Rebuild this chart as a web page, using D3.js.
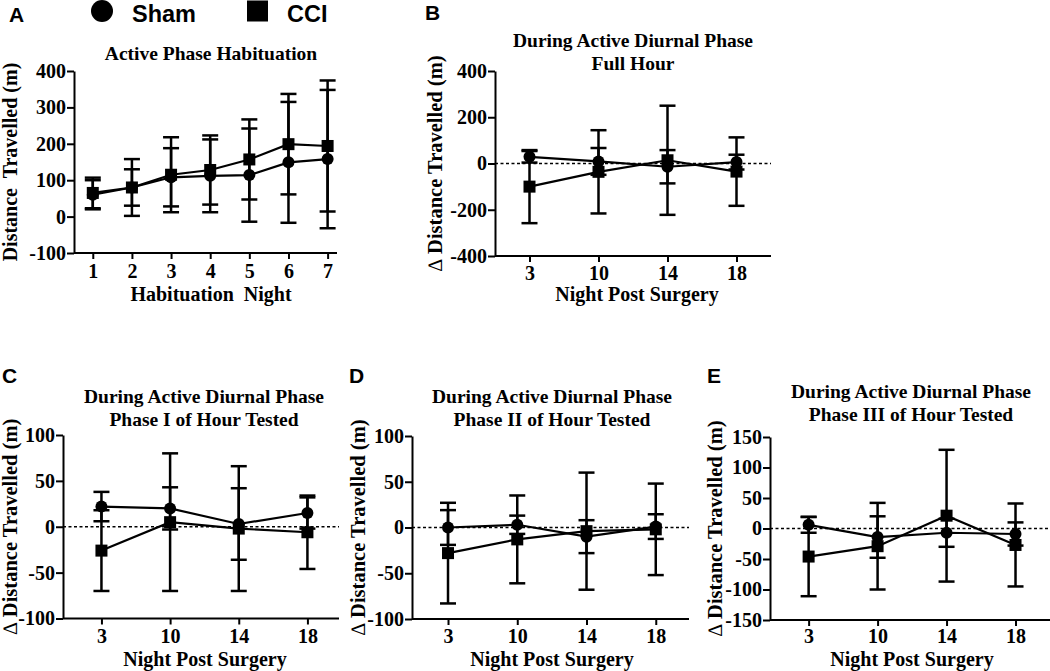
<!DOCTYPE html>
<html>
<head>
<meta charset="utf-8">
<script src="https://cdn.jsdelivr.net/npm/d3@7"></script>
<style>
  html, body { margin: 0; padding: 0; background: #fff; }
  svg { display: block; }
</style>
</head>
<body>
<svg id="chart" width="1050" height="671"></svg>
<script>
// ---------------- DATA ----------------
const habituationNights = [1, 2, 3, 4, 5, 6, 7];
const shamA    = [60, 80, 108, 112, 114, 149, 158];
const shamAErr = [40, 50, 80, 100, 128, 166, 190];
const cciA     = [65, 80, 115, 128, 157, 199, 194];
const cciAErr  = [42, 78, 103, 95, 110, 138, 180];
const ticksA   = [-100, 0, 100, 200, 300, 400];

const postNights = ["3", "10", "14", "18"];

const shamB    = [29, 9, -14, 6];
const shamBErr = [25, 58, 72, 32];
const cciB     = [-100, -36, 14, -35];
const cciBErr  = [158, 180, 236, 148];
const ticksB   = [-400, -200, 0, 200, 400];

const shamC    = [22, 20, 3, 15];
const shamCErr = [16, 23, 39, 17];
const cciC     = [-26, 5, -2, -6];
const cciCErr  = [44, 75, 68, 40];
const ticksC   = [-100, -50, 0, 50, 100];

const shamD    = [0, 3, -10, 1];
const shamDErr = [19, 10, 18, 13.5];
const cciD     = [-28, -13, -4, -2];
const cciDErr  = [55, 48, 64, 50];
const ticksD   = [-100, -50, 0, 50, 100];

const shamE    = [6, -14, -7, -9];
const shamEErr = [13, 34, 23, 19];
const cciE     = [-46, -29, 21, -27];
const cciEErr  = [65, 71, 108, 68];
const ticksE   = [-150, -100, -50, 0, 50, 100, 150];

// ---------------- DRAW ----------------
const svg = d3.select("#chart");
const SERIF = '"Liberation Serif", "Times New Roman", serif';
const SANS = '"Liberation Sans", Arial, sans-serif';

function panel(cfg) {
  const g = svg.append("g");
  const n = cfg.cats.length;
  const x = d3.scaleLinear().domain(cfg.xDomain).range([cfg.left, cfg.right]);
  const y = d3.scaleLinear().domain([cfg.ticks[0], cfg.ticks[cfg.ticks.length - 1]]).range([cfg.bottom, cfg.top]);

  const styleAxis = sel => {
    sel.attr("font-family", SERIF).attr("font-size", 20).attr("font-weight", "bold");
    sel.selectAll(".domain, .tick line").attr("stroke", "#000").attr("stroke-width", 2);
    sel.selectAll(".tick text").attr("fill", "#000")
      .attr("font-family", SERIF).attr("font-weight", "bold").attr("font-size", 20);
  };

  // axes
  const xAxis = d3.axisBottom(x)
    .tickValues(d3.range(n).map(i => cfg.xVal(i)))
    .tickFormat((d, i) => cfg.cats[i])
    .tickSize(6).tickSizeOuter(0).tickPadding(cfg.xPad);
  const gx = g.append("g").attr("transform", `translate(0,${cfg.bottom})`).call(xAxis).call(styleAxis);
  gx.select(".domain").attr("d", `M${cfg.left},0H${cfg.right}`);

  const yAxis = d3.axisLeft(y).tickValues(cfg.ticks).tickSize(7).tickSizeOuter(0).tickPadding(1)
    .tickFormat(d => String(d));
  g.append("g").attr("transform", `translate(${cfg.left},0)`).call(yAxis).call(styleAxis);

  // zero line
  if (cfg.zeroLine) {
    g.append("line")
      .attr("x1", cfg.left).attr("x2", cfg.right)
      .attr("y1", y(0)).attr("y2", y(0))
      .attr("stroke", "#000").attr("stroke-width", 1.6)
      .attr("stroke-dasharray", "3,2.5");
  }

  const series = [
    { vals: cfg.sham, err: cfg.shamErr, shape: "circle" },
    { vals: cfg.cci, err: cfg.cciErr, shape: "square" }
  ];
  const cap = 8;
  // error bars
  series.forEach(s => {
    s.vals.forEach((v, i) => {
      const cx = x(cfg.xVal(i));
      const y1 = y(v + s.err[i]), y0 = y(v - s.err[i]);
      g.append("line").attr("x1", cx).attr("x2", cx).attr("y1", y1).attr("y2", y0)
        .attr("stroke", "#000").attr("stroke-width", 2.5);
      [y1, y0].forEach(yy => g.append("line")
        .attr("x1", cx - cap).attr("x2", cx + cap).attr("y1", yy).attr("y2", yy)
        .attr("stroke", "#000").attr("stroke-width", 2.5));
    });
  });
  // lines
  const line = d3.line().x((d, i) => x(cfg.xVal(i))).y(d => y(d));
  series.forEach(s => {
    g.append("path").attr("d", line(s.vals)).attr("fill", "none")
      .attr("stroke", "#000").attr("stroke-width", 2.2);
  });
  // markers
  series.forEach(s => {
    s.vals.forEach((v, i) => {
      const cx = x(cfg.xVal(i)), cy = y(v);
      if (s.shape === "circle") {
        g.append("circle").attr("cx", cx).attr("cy", cy).attr("r", 6).attr("fill", "#000");
      } else {
        g.append("rect").attr("x", cx - 6).attr("y", cy - 6).attr("width", 12).attr("height", 12).attr("fill", "#000");
      }
    });
  });

  // titles
  cfg.title.forEach((t, i) => {
    g.append("text").attr("x", cfg.titleX).attr("y", cfg.titleY + i * 23)
      .attr("text-anchor", "middle").attr("font-family", SERIF).attr("font-weight", "bold")
      .attr("font-size", 19.5).text(t);
  });
  // x title
  g.append("text").attr("x", cfg.xTitleX).attr("y", cfg.xTitleY)
    .attr("text-anchor", "middle").attr("font-family", SERIF).attr("font-weight", "bold")
    .attr("font-size", 20).style("white-space", "pre").text(cfg.xTitle);
  // y title
  const yt = g.append("text").attr("transform", `translate(${cfg.yTitleX},${(cfg.top + cfg.bottom) / 2}) rotate(-90)`)
    .attr("text-anchor", "middle").attr("font-family", SERIF).attr("font-weight", "bold")
    .attr("font-size", cfg.yTitleSize).style("white-space", "pre");
  if (cfg.delta) {
    yt.append("tspan").attr("font-weight", "normal").text("\u2206 ");
  }
  yt.append("tspan").text(cfg.yTitle);
  // panel letter
  g.append("text").attr("x", cfg.letterX).attr("y", cfg.letterY)
    .attr("font-family", SANS).attr("font-weight", "bold").attr("font-size", 21).text(cfg.letter);
}

const idx = i => i;

panel({
  letter: "A", letterX: 9, letterY: 22,
  cats: habituationNights.map(String), xVal: i => habituationNights[i], xDomain: [0.52, 7.24],
  left: 74, right: 337, top: 71, bottom: 253, ticks: ticksA, xPad: 5,
  sham: shamA, shamErr: shamAErr, cci: cciA, cciErr: cciAErr, zeroLine: false,
  title: ["Active Phase Habituation"], titleX: 211, titleY: 60,
  xTitle: "Habituation  Night", xTitleX: 211, xTitleY: 301,
  yTitle: "Distance  Travelled (m)", yTitleX: 17, yTitleSize: 20, delta: false
});
panel({
  letter: "B", letterX: 425, letterY: 20,
  cats: postNights, xVal: idx, xDomain: [-0.5, 3.5],
  left: 495, right: 771, top: 71, bottom: 256, ticks: ticksB, xPad: 4,
  sham: shamB, shamErr: shamBErr, cci: cciB, cciErr: cciBErr, zeroLine: true,
  title: ["During Active Diurnal Phase", "Full Hour"], titleX: 633, titleY: 47,
  xTitle: "Night Post Surgery", xTitleX: 637, xTitleY: 301,
  yTitle: "Distance Travelled (m)", yTitleX: 442, yTitleSize: 20.5, delta: true
});
panel({
  letter: "C", letterX: 2, letterY: 383,
  cats: postNights, xVal: idx, xDomain: [-0.56, 3.46],
  left: 63, right: 339, top: 435, bottom: 618.5, ticks: ticksC, xPad: 4,
  sham: shamC, shamErr: shamCErr, cci: cciC, cciErr: cciCErr, zeroLine: true,
  title: ["During Active Diurnal Phase", "Phase I of Hour Tested"], titleX: 204, titleY: 403,
  xTitle: "Night Post Surgery", xTitleX: 205, xTitleY: 666,
  yTitle: "Distance Travelled (m)", yTitleX: 17, yTitleSize: 20.5, delta: true
});
panel({
  letter: "D", letterX: 349, letterY: 383,
  cats: postNights, xVal: idx, xDomain: [-0.52, 3.48],
  left: 412, right: 689, top: 436, bottom: 619, ticks: ticksD, xPad: 3.5,
  sham: shamD, shamErr: shamDErr, cci: cciD, cciErr: cciDErr, zeroLine: true,
  title: ["During Active Diurnal Phase", "Phase II of Hour Tested"], titleX: 552, titleY: 403,
  xTitle: "Night Post Surgery", xTitleX: 552, xTitleY: 666,
  yTitle: "Distance Travelled (m)", yTitleX: 365, yTitleSize: 20.5, delta: true
});
panel({
  letter: "E", letterX: 707, letterY: 383,
  cats: postNights, xVal: idx, xDomain: [-0.56, 3.5],
  left: 770, right: 1050, top: 437, bottom: 620, ticks: ticksE, xPad: 3,
  sham: shamE, shamErr: shamEErr, cci: cciE, cciErr: cciEErr, zeroLine: true,
  title: ["During Active Diurnal Phase", "Phase III of Hour Tested"], titleX: 911, titleY: 398,
  xTitle: "Night Post Surgery", xTitleX: 912, xTitleY: 666,
  yTitle: "Distance Travelled (m)", yTitleX: 722, yTitleSize: 20.5, delta: true
});

// legend
const leg = svg.append("g");
leg.append("circle").attr("cx", 102).attr("cy", 11).attr("r", 11).attr("fill", "#000");
leg.append("text").attr("x", 132).attr("y", 21.5).attr("font-family", SANS).attr("font-weight", "bold")
  .attr("font-size", 23.5).text("Sham");
leg.append("rect").attr("x", 247).attr("y", 0.5).attr("width", 21).attr("height", 21).attr("fill", "#000");
leg.append("text").attr("x", 287).attr("y", 21.5).attr("font-family", SANS).attr("font-weight", "bold")
  .attr("font-size", 23.5).text("CCI");
</script>
</body>
</html>
